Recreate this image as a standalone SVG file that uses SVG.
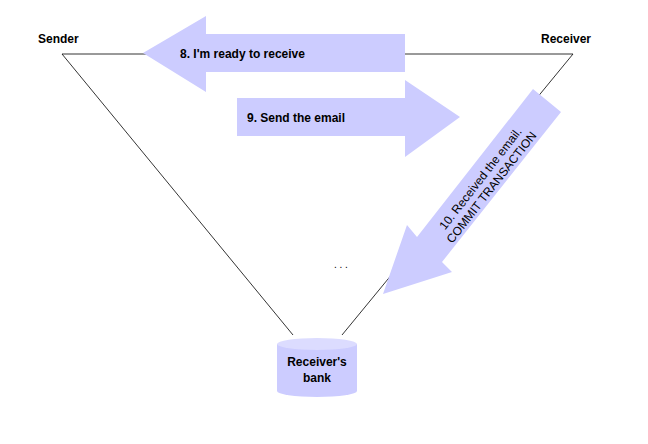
<svg xmlns="http://www.w3.org/2000/svg" width="648" height="444" viewBox="0 0 648 444">
<style>
text{font-family:"Liberation Sans",Arial,sans-serif;font-size:12px;font-weight:bold;fill:#000}
.ar{fill:#ccccff}
.ln{stroke:#000;stroke-width:0.8;fill:none}
</style>
<rect width="648" height="444" fill="#fff"/>
<g id="connectors">
<path class="ln" d="M62,54 L293,335 M342,335 L573,54 M62,54 L573,54"/>
</g>
<g id="arrow8"><polygon class="ar" points="143,53 206,16 206,34 405,34 405,72 206,72 206,92"/><text x="180" y="58">8. I'm ready to receive</text></g>
<g id="arrow9"><polygon class="ar" points="237,98 405,98 405,80 460,117 405,157 405,136 237,136"/><text x="247" y="122">9. Send the email</text></g>
<g id="arrow10"><polygon class="ar" points="533,89 561,112 442,262 452,272 383,294 407,225 417,237"/>
<text transform="translate(486,183) rotate(-52)" text-anchor="middle" style="font-weight:normal"><tspan x="0" y="-3">10. Received the email.</tspan><tspan x="0" y="11">COMMIT TRANSACTION</tspan></text></g>
<g id="sender"><text x="38" y="43">Sender</text></g>
<g id="receiver"><text x="541" y="43">Receiver</text></g>
<text x="334" y="268" style="font-weight:normal;font-size:10px">. . .</text>
<g id="bank">
<path class="ar" d="M277,344 L277,391 A40,6 0 0 0 357,391 L357,344 Z"/>
<ellipse cx="317" cy="344" rx="40" ry="6" fill="#dcdcff"/>
<text x="317" y="366" text-anchor="middle">Receiver's</text>
<text x="317" y="382" text-anchor="middle">bank</text>
</g>
</svg>
